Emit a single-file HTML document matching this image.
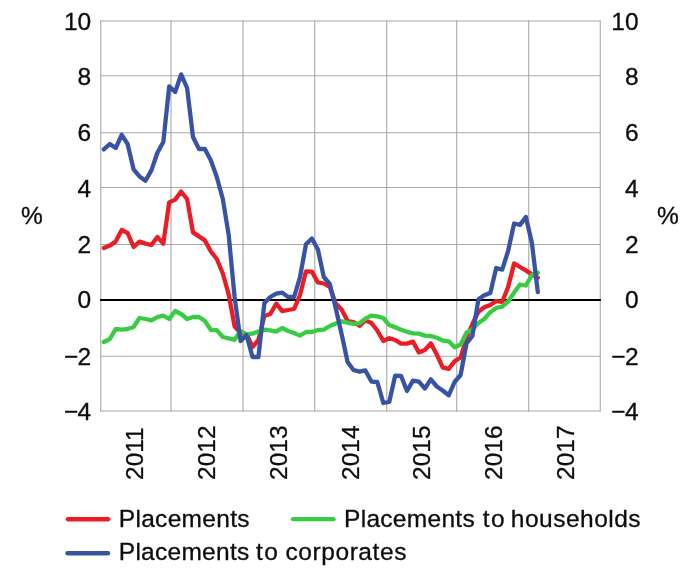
<!DOCTYPE html>
<html lang="en"><head><meta charset="utf-8"><title>Placements</title>
<style>
html,body{margin:0;padding:0;background:#fff;}
body{width:700px;height:580px;overflow:hidden;}
svg{display:block;}
text{font-family:"Liberation Sans",Arial,Helvetica,sans-serif;font-size:24.5px;fill:#0c0c0c;stroke:#0c0c0c;stroke-width:0.3px;}
</style></head><body>
<svg width="700" height="580" viewBox="0 0 700 580">
<rect width="700" height="580" fill="#fff"/>
<g stroke="#a8a8a8" stroke-width="1.1" fill="none">
<line x1="100.75" x2="600.25" y1="21.0" y2="21.0"/>
<line x1="100.75" x2="600.25" y1="75.75" y2="75.75"/>
<line x1="100.75" x2="600.25" y1="132.75" y2="132.75"/>
<line x1="100.75" x2="600.25" y1="187.5" y2="187.5"/>
<line x1="100.75" x2="600.25" y1="244.5" y2="244.5"/>
<line x1="100.75" x2="600.25" y1="356.25" y2="356.25"/>
<line x1="100.75" x2="600.25" y1="411.0" y2="411.0"/>
<line x1="100.75" x2="100.75" y1="20.45" y2="411.55"/>
<line x1="171.0" x2="171.0" y1="20.45" y2="411.55"/>
<line x1="243.0" x2="243.0" y1="20.45" y2="411.55"/>
<line x1="314.75" x2="314.75" y1="20.45" y2="411.55"/>
<line x1="386.75" x2="386.75" y1="20.45" y2="411.55"/>
<line x1="456.75" x2="456.75" y1="20.45" y2="411.55"/>
<line x1="528.75" x2="528.75" y1="20.45" y2="411.55"/>
<line x1="600.25" x2="600.25" y1="20.45" y2="411.55"/>
</g>
<line x1="100.15" x2="600.85" y1="300.0" y2="300.0" stroke="#000" stroke-width="2.2"/>
<polyline fill="none" stroke="#eb1c24" stroke-width="4.3" stroke-linejoin="round" stroke-linecap="round" points="103.8,248.0 109.8,245.6 115.7,241.6 121.7,230.0 127.6,233.0 133.6,247.0 139.5,241.6 145.5,243.6 151.4,245.0 157.4,237.0 163.3,243.6 169.2,202.4 175.2,199.6 181.1,191.6 187.1,199.0 193.0,232.4 199.0,236.4 204.9,240.4 210.9,251.5 216.8,259.0 222.8,273.5 228.7,294.5 234.6,326.3 240.6,333.0 246.5,334.0 252.5,347.0 258.4,340.0 264.4,316.0 270.3,314.0 276.3,303.7 282.2,311.2 288.1,310.0 294.1,309.0 300.0,295.0 306.0,271.3 311.9,271.6 317.9,282.5 323.8,283.5 329.8,287.0 335.7,303.5 341.6,309.5 347.6,321.0 353.5,322.0 359.5,325.8 365.4,320.5 371.4,323.0 377.3,330.5 383.3,341.0 389.2,338.2 395.2,340.0 401.1,343.6 407.0,343.6 413.0,341.6 418.9,352.4 424.9,350.0 430.8,343.3 436.8,354.5 442.7,367.3 448.7,368.8 454.6,361.3 460.6,357.5 466.5,338.0 472.4,324.0 478.4,311.8 484.3,307.3 490.3,305.0 496.2,301.0 502.2,302.0 508.1,287.0 514.1,263.4 520.0,267.0 525.9,270.4 531.9,274.4 537.8,277.6"/>
<polyline fill="none" stroke="#38cc42" stroke-width="4.3" stroke-linejoin="round" stroke-linecap="round" points="103.8,342.0 109.8,339.0 115.7,329.0 121.7,329.6 127.6,329.0 133.6,327.0 139.5,318.0 145.5,319.0 151.4,320.4 157.4,317.0 163.3,315.6 169.2,319.0 175.2,311.0 181.1,314.0 187.1,319.0 193.0,317.0 199.0,317.0 204.9,321.0 210.9,330.0 216.8,330.2 222.8,337.0 228.7,338.3 234.6,339.8 240.6,331.0 246.5,334.4 252.5,333.6 258.4,331.6 264.4,329.6 270.3,330.4 276.3,331.6 282.2,328.0 288.1,331.0 294.1,333.0 300.0,335.6 306.0,332.0 311.9,332.0 317.9,330.0 323.8,329.6 329.8,326.0 335.7,323.5 341.6,321.3 347.6,322.7 353.5,323.8 359.5,323.3 365.4,318.7 371.4,315.6 377.3,316.4 383.3,318.0 389.2,325.0 395.2,327.3 401.1,329.8 407.0,331.8 413.0,333.3 418.9,333.6 424.9,335.6 430.8,336.0 436.8,337.8 442.7,340.5 448.7,341.3 454.6,347.3 460.6,344.5 466.5,332.7 472.4,329.5 478.4,323.0 484.3,319.0 490.3,312.2 496.2,307.9 502.2,306.6 508.1,301.5 514.1,292.5 520.0,284.5 525.9,285.5 531.9,275.0 537.8,272.8"/>
<polyline fill="none" stroke="#3853a4" stroke-width="4.3" stroke-linejoin="round" stroke-linecap="round" points="103.8,149.4 109.8,144.0 115.7,148.0 121.7,134.8 127.6,144.0 133.6,169.4 139.5,176.4 145.5,180.8 151.4,170.4 157.4,152.8 163.3,142.0 169.2,86.4 175.2,92.0 181.1,74.4 187.1,88.0 193.0,137.0 199.0,149.0 204.9,149.0 210.9,160.5 216.8,177.0 222.8,199.0 228.7,235.0 234.6,297.0 240.6,341.0 246.5,335.0 252.5,357.0 258.4,357.0 264.4,303.0 270.3,297.0 276.3,293.6 282.2,292.6 288.1,297.0 294.1,297.0 300.0,277.0 306.0,244.2 311.9,238.5 317.9,249.5 323.8,277.0 329.8,284.0 335.7,308.0 341.6,334.0 347.6,362.0 353.5,370.0 359.5,371.6 365.4,370.4 371.4,381.6 377.3,382.0 383.3,403.0 389.2,402.0 395.2,375.6 401.1,376.0 407.0,391.0 413.0,380.6 418.9,381.6 424.9,388.5 430.8,379.3 436.8,386.5 442.7,390.5 448.7,395.3 454.6,382.0 460.6,375.0 466.5,343.5 472.4,336.0 478.4,299.3 484.3,295.3 490.3,293.0 496.2,268.0 502.2,269.6 508.1,251.0 514.1,223.5 520.0,224.9 525.9,217.0 531.9,243.0 537.8,292.0"/>
<text x="91.2" y="29.5" text-anchor="end">10</text>
<text x="638.6" y="29.5" text-anchor="end">10</text>
<text x="91.2" y="85.3" text-anchor="end">8</text>
<text x="638.6" y="85.3" text-anchor="end">8</text>
<text x="91.2" y="141.3" text-anchor="end">6</text>
<text x="638.6" y="141.3" text-anchor="end">6</text>
<text x="91.2" y="197.0" text-anchor="end">4</text>
<text x="638.6" y="197.0" text-anchor="end">4</text>
<text x="91.2" y="253.0" text-anchor="end">2</text>
<text x="638.6" y="253.0" text-anchor="end">2</text>
<text x="91.2" y="308.3" text-anchor="end">0</text>
<text x="638.6" y="308.3" text-anchor="end">0</text>
<text x="91.2" y="364.5" text-anchor="end"><tspan style="letter-spacing:-0.7px">−</tspan>2</text>
<text x="638.6" y="364.5" text-anchor="end"><tspan style="letter-spacing:-0.7px">−</tspan>2</text>
<text x="91.2" y="420.0" text-anchor="end"><tspan style="letter-spacing:-0.7px">−</tspan>4</text>
<text x="638.6" y="420.0" text-anchor="end"><tspan style="letter-spacing:-0.7px">−</tspan>4</text>
<text x="32" y="224.3" text-anchor="middle">%</text>
<text x="668" y="224.3" text-anchor="middle">%</text>
<text transform="translate(143.0,480) rotate(-90)" x="0" y="0">2011</text>
<text transform="translate(215.4,480) rotate(-90)" x="0" y="0">2012</text>
<text transform="translate(286.5,480) rotate(-90)" x="0" y="0">2013</text>
<text transform="translate(358.5,480) rotate(-90)" x="0" y="0">2014</text>
<text transform="translate(430.3,480) rotate(-90)" x="0" y="0">2015</text>
<text transform="translate(502.1,480) rotate(-90)" x="0" y="0">2016</text>
<text transform="translate(574.2,480) rotate(-90)" x="0" y="0">2017</text>
<line x1="67.85000000000001" x2="108.25" y1="519.25" y2="519.25" stroke="#eb1c24" stroke-width="4.3" stroke-linecap="round"/>
<line x1="292.95" x2="333.55" y1="519.2" y2="519.2" stroke="#38cc42" stroke-width="4.3" stroke-linecap="round"/>
<line x1="67.45" x2="108.05" y1="553.25" y2="553.25" stroke="#3853a4" stroke-width="4.3" stroke-linecap="round"/>
<text y="526.5"><tspan x="118.8" style="letter-spacing:0.3px">Placements</tspan></text>
<text y="526.5"><tspan x="344.0" style="letter-spacing:0.3px">Placements</tspan> <tspan x="482.7" style="letter-spacing:1.5px">to</tspan> <tspan x="510.8" style="letter-spacing:0.5px">households</tspan></text>
<text y="560"><tspan x="118.8" style="letter-spacing:0.27px">Placements</tspan> <tspan x="256" style="letter-spacing:1.5px">to</tspan> <tspan x="285.5" style="letter-spacing:0.57px">corporates</tspan></text>
</svg></body></html>
